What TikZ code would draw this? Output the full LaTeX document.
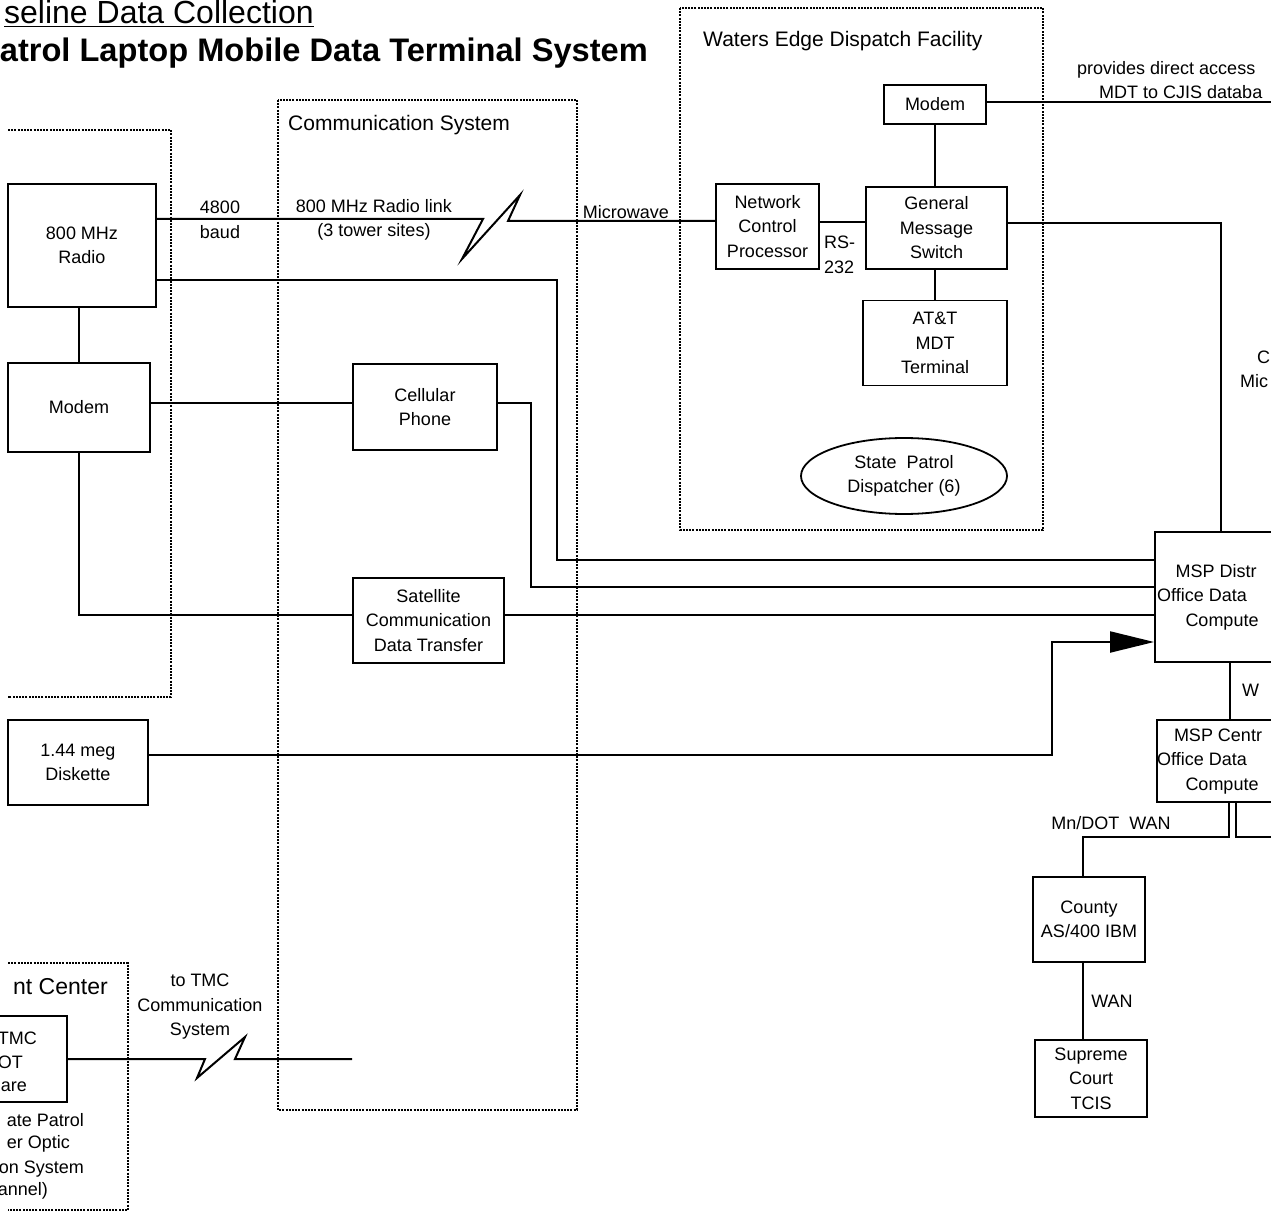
\documentclass[tikz,border=0pt]{standalone}
\usepackage{fontspec}
\setmainfont{Liberation Sans}
\usetikzlibrary{arrows.meta,shapes.geometric}
\newcommand\boxfont{\fontsize{18}{24.5}\selectfont}
\newcommand\headfont{\fontsize{21}{25}\selectfont}
\newcommand\titlefont{\fontsize{32}{38}\selectfont}
\begin{document}
\begin{tikzpicture}[x=1pt,y=-1pt,
  box/.style={draw,line width=1.8pt,inner sep=0pt,align=center,font=\boxfont},
  wire/.style={line width=2pt},
  frame/.style={line width=1.4pt,dash pattern=on 2pt off 1.2pt},
  lbl/.style={inner sep=0pt,align=center,font=\boxfont},
  head/.style={inner sep=0pt,font=\headfont,anchor=west}]
\useasboundingbox (0,0) rectangle (1271,1214);
\clip (0,0) rectangle (1271,1214);
\draw[frame] (8,130) -- (171,130) -- (171,697) -- (8,697);
\draw[frame] (278,100) rectangle (577,1110);
\draw[frame] (680,8) rectangle (1043,530);
\draw[frame] (8,963) -- (128,963) -- (128,1210) -- (8,1210);
\node[anchor=base west,inner sep=0pt,font=\titlefont] (ttl1) at (4,24) {\underline{seline Data Collection}};
\node[anchor=base east,inner sep=0pt,font=\fontsize{32.6}{38}\selectfont\bfseries] (ttl2) at (648,62) {Patrol Laptop Mobile Data Terminal System};
\node[head] (commlbl) at (288,125) {Communication System};
\node[head] (weflbl) at (703,41) {Waters Edge Dispatch Facility};
\node[head,anchor=east,font=\fontsize{23}{27}\selectfont] (tmclbl) at (108,987) {nt Center};
\node[box,minimum width=148pt,minimum height=123pt] (radio) at (82,245.5) {800 MHz\\Radio};
\node[box,minimum width=142pt,minimum height=89pt] (modemL) at (79,407.5) {Modem};
\node[box,minimum width=144pt,minimum height=86pt] (cell) at (425,407) {Cellular\\Phone};
\node[box,minimum width=151pt,minimum height=85pt] (sat) at (428.5,620.5) {Satellite\\Communication\\Data Transfer};
\node[box,minimum width=140pt,minimum height=85pt] (disk) at (78,762.5) {1.44 meg\\Diskette};
\node[box,minimum width=147pt,minimum height=86pt] (tmc) at (-6.5,1059) {};
\node[lbl,anchor=east] (tmc1) at (37,1038) {TMC};
\node[lbl,anchor=east] (tmc2) at (23,1062) {OT};
\node[lbl,anchor=east] (tmc3) at (27,1087) {are};
\node[box,minimum width=102pt,minimum height=39pt] (modemR) at (935,104.5) {Modem};
\node[box,minimum width=103pt,minimum height=85pt] (ncp) at (767.5,226.5) {Network\\Control\\Processor};
\node[box,minimum width=141pt,minimum height=82pt] (gms) at (936.5,228) {General\\Message\\Switch};
\node[box,minimum width=144pt,minimum height=85pt] (att) at (935,343) {AT\&T\\MDT\\Terminal};
\node[box,ellipse,minimum width=206pt,minimum height=76pt] (disp) at (904,476) {State\ \ Patrol\\Dispatcher (6)};
\node[box,minimum width=140pt,minimum height=130pt] (msp1) at (1225,597) {MSP Distr\phantom{ict}\\Office Data\phantom{ Base}\\Compute\phantom{r}};
\node[box,minimum width=136pt,minimum height=82pt] (msp2) at (1225,761) {MSP Centr\phantom{al}\\Office Data\phantom{ Base}\\Compute\phantom{r}};
\node[box,minimum width=112pt,minimum height=85pt] (county) at (1089,919.5) {County\\AS/400 IBM};
\node[box,minimum width=112pt,minimum height=77pt] (sup) at (1091,1078.5) {Supreme\\Court\\TCIS};
\node[lbl] (baud) at (220,220) {4800\\baud};
\node[lbl] (rlink) at (374,220) {800 MHz Radio link\\(3 tower sites)};
\node[lbl] (mw) at (626,212) {Microwave};
\node[lbl,anchor=west,align=left] (rs) at (824,255) {RS-\\232};
\node[lbl,anchor=west] (cjis1) at (1077,70) {provides direct access};
\node[lbl,anchor=west] (cjis2) at (1099,92) {MDT to CJIS databa};
\node[lbl,anchor=west] (cmw1) at (1257,357) {C};
\node[lbl,anchor=west] (cmw2) at (1240,381) {Mic};
\node[lbl,anchor=west] (wan0) at (1242,690) {W};
\node[lbl] (mndot) at (1111,823) {Mn/DOT\ \ WAN};
\node[lbl] (wan2) at (1112,1001) {WAN};
\node[lbl] (totmc) at (200,1007) {to TMC\\Communication\\System};
\node[lbl,anchor=east] (fo1) at (84,1120) {ate Patrol};
\node[lbl,anchor=east] (fo2) at (70,1144) {er Optic};
\node[lbl,anchor=east] (fo3) at (84,1169) {on System};
\node[lbl,anchor=east] (fo4) at (48,1191) {annel)};
\coordinate (bolt1) at (483,219);
\coordinate (jog1) at (557,400);
\coordinate (jog2) at (531,500);
\coordinate (jog3) at (1052,700);
\coordinate (cjisend) at (1290,102);
\coordinate (wanjog) at (1083,837);
\coordinate (wanend) at (1290,837);
\coordinate (bolt2) at (205,1059);
\coordinate (tmcend) at (352,1059);
\draw[wire] ([yshift=26.5pt]radio.east) -- (bolt1) -- ++(-21,40) -- ++(58,-64) -- ++(-12,26) -- ([yshift=5.5pt]ncp.west);
\draw[wire] ([yshift=-34.5pt]radio.east) -| (jog1) |- ([yshift=37pt]msp1.west);
\draw[wire] (modemL.north |- radio.south) -- (modemL.north);
\draw[wire] ([yshift=4.5pt]modemL.east) -- ([yshift=4pt]cell.west);
\draw[wire] ([yshift=4pt]cell.east) -| (jog2) |- ([yshift=10pt]msp1.west);
\draw[wire] (modemL.south) |- ([yshift=5.5pt]sat.west);
\draw[wire] ([yshift=5.5pt]sat.east) -- ([yshift=-18pt]msp1.west);
\draw[wire,-{Triangle[length=44pt,width=21pt]}] ([yshift=7.5pt]disk.east) -| (jog3) |- ([yshift=-45pt]msp1.west);
\draw[wire] ([yshift=4.5pt]ncp.east) -- ([yshift=6pt]gms.west);
\draw[wire] (modemR.south) -- (modemR.south |- gms.north);
\draw[wire] ([yshift=2.5pt]modemR.east) -- (cjisend);
\draw[wire] ([yshift=5pt]gms.east) -| ([xshift=-4pt]msp1.north);
\draw[wire] (att.north |- gms.south) -- (att.north);
\draw[wire] ([xshift=5pt]msp1.south) -- ([xshift=5pt]msp2.north);
\draw[wire] ([xshift=4pt]msp2.south) |- (wanjog) -- (wanjog |- county.north);
\draw[wire] ([xshift=11pt]msp2.south) |- (wanend);
\draw[wire] (wanjog |- county.south) -- (wanjog |- sup.north);
\draw[wire] (tmc.east) -- (bolt2) -- ++(-8,19) -- ++(48,-41) -- ++(-10,22) -- (tmcend);
\end{tikzpicture}
\end{document}
